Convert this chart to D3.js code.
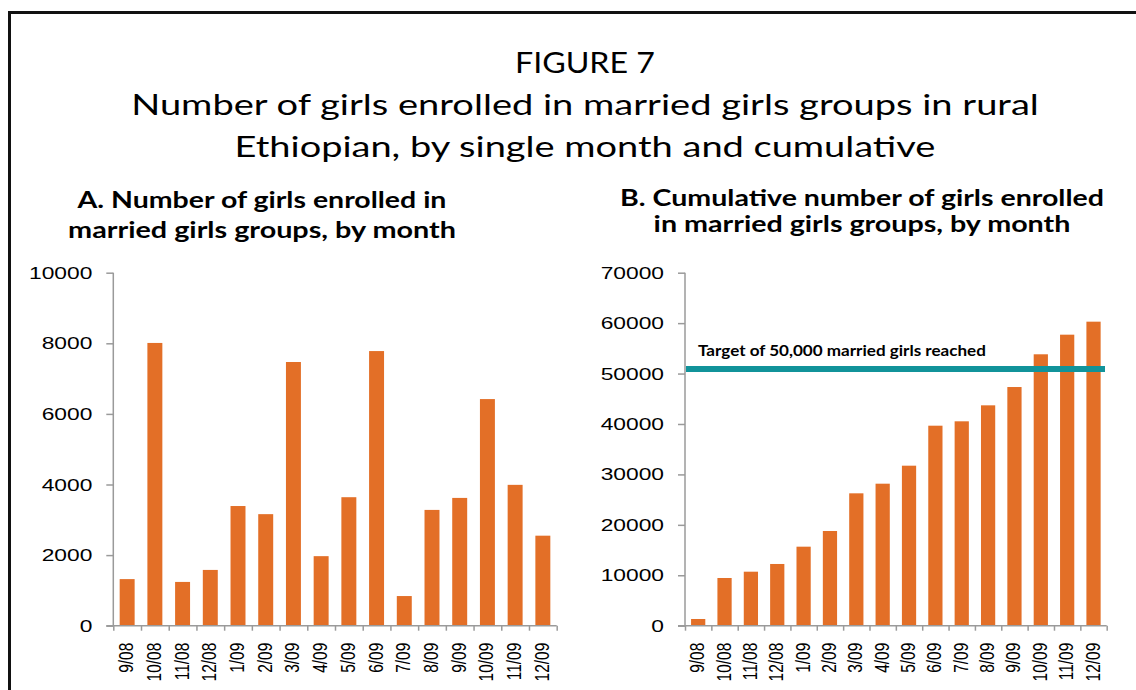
<!DOCTYPE html>
<html>
<head>
<meta charset="utf-8">
<script src="https://cdn.jsdelivr.net/npm/d3@7"></script>
<style>
  html, body { margin: 0; padding: 0; background: #fff; }
  svg { display: block; }
  .axis path, .axis line { stroke: #9a9a9a; stroke-width: 1.5; }
</style>
</head>
<body>
<div id="chart"></div>
<script>
// months shared by both panels
var months = ["9/08", "10/08", "11/08", "12/08", "1/09", "2/09", "3/09", "4/09",
              "5/09", "6/09", "7/09", "8/09", "9/09", "10/09", "11/09", "12/09"];

// panel A : girls enrolled in the month
var monthly = [1320, 8010, 1240, 1580, 3390, 3160, 7470, 1970,
               3640, 7780, 840, 3280, 3620, 6420, 3990, 2550];

// panel B : cumulative total
var cumulative = [1330, 9460, 10710, 12240, 15670, 18780, 26250, 28160,
                  31730, 39660, 40530, 43700, 47330, 53820, 57710, 60290];

var ticksA = [0, 2000, 4000, 6000, 8000, 10000];
var ticksB = [0, 10000, 20000, 30000, 40000, 50000, 60000, 70000];
var target = 50900;

var titleLines = ["FIGURE 7",
                  "Number of girls enrolled in married girls groups in rural",
                  "Ethiopian, by single month and cumulative"];
var subtitleA = ["A. Number of girls enrolled in", "married girls groups, by month"];
var subtitleB = ["B. Cumulative number of girls enrolled", "in married girls groups, by month"];
var targetLabel = "Target of 50,000  married girls reached";

var W = 1136, H = 690;
var orange = "#e36f27",
    teal = "#11939a";

var svg = d3.select("#chart").append("svg")
    .attr("width", W)
    .attr("height", H);

// frame (runs off the right and bottom edge)
svg.append("rect")
    .attr("x", 9.5).attr("y", 12.5)
    .attr("width", W + 20).attr("height", H + 20)
    .attr("fill", "none")
    .attr("stroke", "#111")
    .attr("stroke-width", 3);

// text stretched sideways; if fitW is given the text is stretched to that width
function wideText(parent, x, y, sx, txt, opts, fitW) {
    var g = parent.append("g");
    var t = g.append("text")
        .attr("text-anchor", opts.anchor || "middle")
        .attr("font-family", opts.family || "Lato")
        .attr("font-size", opts.size)
        .attr("font-weight", opts.weight || "normal")
        .attr("fill", "#000")
        .text(txt);
    if (fitW) sx = fitW / t.node().getComputedTextLength();
    g.attr("transform", "translate(" + x + "," + y + ") scale(" + sx + ",1)");
    return t;
}

////////// titles //////////

var titleY = [73, 115, 157],
    titleW = [140, 908, 701];
titleLines.forEach(function(t, i) {
    wideText(svg, 585, titleY[i], 1, t, {size: 29}, titleW[i]);
});
subtitleA.forEach(function(t, i) {
    wideText(svg, 262, [208, 238][i], 1, t, {size: 22.5, weight: "bold"}, [369, 388][i]);
});
subtitleB.forEach(function(t, i) {
    wideText(svg, 862, [206, 232][i], 1, t, {size: 22.5, weight: "bold"}, [484, 417][i]);
});

////////// panels //////////

var y0 = 625.7, y1 = 272.7;

function drawPanel(left, right, values, ticks) {
    var x = d3.scaleBand()
        .domain(months)
        .range([left, right])
        .padding(0);

    var y = d3.scaleLinear()
        .domain([0, d3.max(ticks)])
        .range([y0, y1]);

    var bw = x.bandwidth();
    var g = svg.append("g");

    g.selectAll(".bar")
        .data(values)
        .enter()
        .append("rect")
        .attr("class", "bar")
        .attr("x", function(d, i) { return x(months[i]) + bw * 0.23; })
        .attr("width", bw * 0.54)
        .attr("y", function(d) { return y(d); })
        .attr("height", function(d) { return y0 - y(d); })
        .attr("fill", orange);

    // y axis, labels drawn separately so they can be widened
    var yAxis = g.append("g")
        .attr("class", "axis")
        .attr("transform", "translate(" + left + ",0)")
        .call(d3.axisLeft(y).tickValues(ticks).tickSize(7).tickFormat(""));
    yAxis.select(".domain").attr("d", "M0," + y0 + "V" + y1);

    ticks.forEach(function(t) {
        wideText(g, left - 21, y(t) + 6, 1.38, String(t),
            {size: 16.5, family: "Liberation Sans", anchor: "end"});
    });

    // x axis with ticks on the category boundaries
    var xb = d3.scaleLinear().domain([0, months.length]).range([left, right]);
    var xAxis = g.append("g")
        .attr("class", "axis")
        .attr("transform", "translate(0," + y0 + ")")
        .call(d3.axisBottom(xb).tickValues(d3.range(months.length + 1)).tickSize(5).tickFormat(""));
    xAxis.select(".domain").attr("d", "M" + (left - 7) + ",0H" + right);

    months.forEach(function(m) {
        var cx = x(m) + bw / 2;
        var lg = g.append("g")
            .attr("transform", "translate(" + (cx + 6) + "," + (y0 + 17) + ") scale(1.3,1) rotate(-90)");
        lg.append("text")
            .attr("text-anchor", "end")
            .attr("font-family", "Liberation Sans")
            .attr("font-size", 15.5)
            .attr("fill", "#000")
            .text(m);
    });

    return {x: x, y: y, g: g};
}

drawPanel(113.3, 556.7, monthly, ticksA);
var pB = drawPanel(685, 1106.7, cumulative, ticksB);

// target line on panel B
pB.g.append("line")
    .attr("x1", 686).attr("x2", 1105)
    .attr("y1", pB.y(target)).attr("y2", pB.y(target))
    .attr("stroke", teal)
    .attr("stroke-width", 6);

wideText(pB.g, 698, 355.5, 1, targetLabel,
    {size: 14.5, weight: "bold", anchor: "start"}, 288);
</script>
</body>
</html>
